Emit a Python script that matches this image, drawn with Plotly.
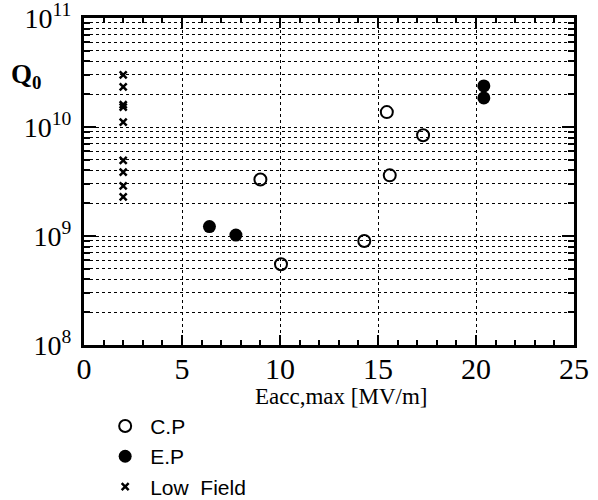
import plotly.graph_objects as go

# Data
cp_x = [9.0, 10.05, 14.3, 15.45, 15.6, 17.3]
cp_y = [3.3e9, 5.5e8, 9.0e8, 1.37e10, 3.6e9, 8.4e9]
ep_x = [6.4, 7.75, 20.4, 20.4]
ep_y = [1.22e9, 1.02e9, 2.38e10, 1.85e10]
lf_x = [2, 2, 2, 2, 2, 2, 2, 2, 2]
lf_y = [3.0e10, 2.33e10, 1.6e10, 1.52e10, 1.11e10, 4.95e9, 3.85e9, 2.88e9, 2.28e9]

x_ticks = [0, 5, 10, 15, 20, 25]
x_ticktext = ["0", "5", "10", "15", "20", "25"]
y_tickvals = [1e8, 1e9, 1e10, 1e11]
y_ticktext = ["10<sup>8</sup>", "10<sup>9</sup>", "10<sup>10</sup>", "10<sup>11</sup>"]
y_minor = [m * 10 ** e for e in (8, 9, 10) for m in range(2, 10)]
x_minor = [v for v in range(0, 26) if v % 5 != 0]

serif = "Liberation Serif"
sans = "Liberation Sans"


def serif_span(t):
    return "<span style=\"font-family:'Liberation Serif',serif\">" + t + "</span>"


fig = go.Figure()
fig.add_trace(go.Scatter(
    x=cp_x, y=cp_y, mode="markers", name="C.P",
    marker=dict(symbol="circle-open", size=12, color="black", line=dict(width=2, color="black")),
))
fig.add_trace(go.Scatter(
    x=ep_x, y=ep_y, mode="markers", name="E.P",
    marker=dict(symbol="circle", size=13, color="black"),
))
fig.add_trace(go.Scatter(
    x=lf_x, y=lf_y, mode="markers", name="Low  Field",
    marker=dict(symbol="x-thin-open", size=7, color="black", line=dict(width=2.5, color="black")),
))

fig.update_layout(
    width=598, height=500,
    margin=dict(l=84, r=24, t=18, b=155, autoexpand=False),
    paper_bgcolor="white", plot_bgcolor="white",
    font=dict(family=serif, color="black"),
    showlegend=True,
    legend=dict(
        x=0.033, y=-0.186, xanchor="left", yanchor="top",
        font=dict(family=sans, size=21, color="black"),
        bgcolor="rgba(0,0,0,0)", tracegroupgap=0, itemwidth=40,
    ),
    xaxis=dict(
        range=[0, 25], tickmode="array", tickvals=x_ticks,
        ticktext=[serif_span(t) for t in x_ticktext],
        automargin=False, ticklabeloverflow="allow",
        showline=True, linewidth=3, linecolor="black", mirror="ticks",
        ticks="inside", ticklen=10, tickwidth=2, tickcolor="black",
        showgrid=True, gridcolor="black", gridwidth=1.3, griddash="dot",
        zeroline=False, ticklabelstandoff=-5,
        tickfont=dict(family=serif, size=30, color="black"),
        minor=dict(tickvals=x_minor, ticks="inside", ticklen=5, tickwidth=2,
                   tickcolor="black", showgrid=False),
    ),
    yaxis=dict(
        type="log", range=[8, 11], tickmode="array", tickvals=y_tickvals,
        ticktext=[serif_span(t) for t in y_ticktext],
        automargin=False, ticklabeloverflow="allow",
        showline=True, linewidth=3, linecolor="black", mirror="ticks",
        ticks="inside", ticklen=12, tickwidth=2, tickcolor="black",
        showgrid=True, gridcolor="black", gridwidth=1.3, griddash="dot",
        zeroline=False, ticklabelstandoff=4,
        tickfont=dict(family=serif, size=28, color="black"),
        minor=dict(tickvals=y_minor, ticks="inside", ticklen=6, tickwidth=2,
                   tickcolor="black", showgrid=True, gridcolor="black",
                   gridwidth=1.3, griddash="dot"),
    ),
    annotations=[
        dict(text="Eacc,max [MV/m]", x=0.524, y=-0.158, xref="paper", yref="paper",
             xanchor="center", yanchor="middle", showarrow=False,
             font=dict(family=serif, size=23, color="black")),
        dict(text="<b>Q<sub>0</sub></b>", x=-0.118, y=0.823, xref="paper", yref="paper",
             xanchor="center", yanchor="middle", showarrow=False,
             font=dict(family=serif, size=27, color="black")),
    ],
)

fig.write_html("out.html", config={"displayModeBar": False},
               post_script="document.body.style.margin='0';")
